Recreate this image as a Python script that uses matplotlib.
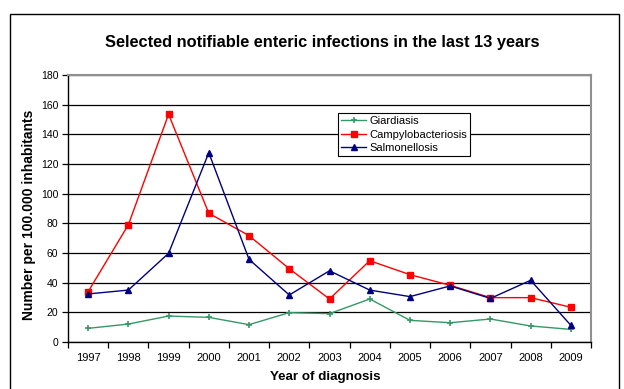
import matplotlib
matplotlib.use("Agg")
import matplotlib.pyplot as plt
from matplotlib.patches import Rectangle

plt.rcParams['font.family'] = ['Liberation Sans', 'DejaVu Sans']

years = [1997, 1998, 1999, 2000, 2001, 2002, 2003, 2004, 2005, 2006, 2007, 2008, 2009]
giardiasis = [9.2, 12.1, 17.5, 16.6, 11.7, 19.8, 19.1, 29.0, 14.6, 13.0, 15.5, 10.8, 8.5]
campylobacteriosis = [33.9, 79.0, 153.5, 86.8, 71.7, 49.4, 29.0, 54.8, 45.4, 38.2, 29.9, 29.9, 23.4]
salmonellosis = [32.4, 35.0, 59.8, 127.6, 55.7, 31.7, 48.0, 35.0, 30.6, 37.8, 29.4, 41.6, 11.2]
y_ticks = [0, 20, 40, 60, 80, 100, 120, 140, 160, 180]

W, H = 624, 389
fig = plt.figure(figsize=(W / 100, H / 100), dpi=100)

# chart frame
fig.patches.append(Rectangle((10 / W, -0.05), (619 - 10) / W, (H - 14) / H + 0.05,
                             transform=fig.transFigure, fill=False,
                             edgecolor='black', linewidth=1.0))

left, right, top, bottom = 68, 591, 75, 342
ax = fig.add_axes([left / W, 1 - bottom / H, (right - left) / W, (bottom - top) / H])

ax.set_xlim(years[0] - 0.5, years[-1] + 0.5)
ax.set_ylim(0, 180)
ax.set_yticks(y_ticks)
ax.yaxis.grid(True, color='black', linewidth=0.9)
ax.set_axisbelow(True)

ax.plot(years, giardiasis, color='#339966', marker='+', markersize=4,
        markeredgewidth=1.2, linewidth=1.0, label='Giardiasis')
ax.plot(years, campylobacteriosis, color='#FF0000', marker='s', markersize=4,
        linewidth=1.0, label='Campylobacteriosis')
ax.plot(years, salmonellosis, color='#000080', marker='^', markersize=4,
        linewidth=1.0, label='Salmonellosis')

# category ticks sit between the years
ax.set_xticks([y - 0.5 for y in years] + [years[-1] + 0.5])
ax.set_xticklabels([])
ax.set_xticks(years, minor=True)
ax.set_xticklabels([str(y) for y in years], minor=True, fontsize=8)
ax.tick_params(axis='x', which='major', direction='out', length=4, width=0.9, color='black')
ax.tick_params(axis='x', which='minor', length=0, pad=8)
ax.tick_params(axis='y', direction='out', length=4, width=0.9, labelsize=7.5, pad=3)

for s in ['left', 'bottom']:
    ax.spines[s].set_color('black')
    ax.spines[s].set_linewidth(1.0)
for s in ['top', 'right']:
    ax.spines[s].set_color('#909090')
    ax.spines[s].set_linewidth(1.5)

fig.text(0.5 * (105 + 540) / W, 1 - 43 / H,
         'Selected notifiable enteric infections in the last 13 years',
         ha='center', va='center', fontsize=11.8, fontweight='bold')
fig.text(29 / W, 1 - 215 / H, 'Number per 100.000 inhabitants', rotation=90,
         ha='center', va='center', fontsize=10, fontweight='bold')
fig.text(325 / W, 1 - 377 / H, 'Year of diagnosis',
         ha='center', va='center', fontsize=9.6, fontweight='bold')

leg = ax.legend(loc='upper left', bbox_to_anchor=((338 - left) / (right - left),
                                                  1 - (113 - top) / (bottom - top)),
                fontsize=8, frameon=True, fancybox=False, edgecolor='black',
                framealpha=1, borderpad=0.3, labelspacing=0.3, handlelength=2.2,
                handletextpad=0.3, borderaxespad=0)
leg.get_frame().set_linewidth(0.8)

fig.savefig('out.png', dpi=100)
